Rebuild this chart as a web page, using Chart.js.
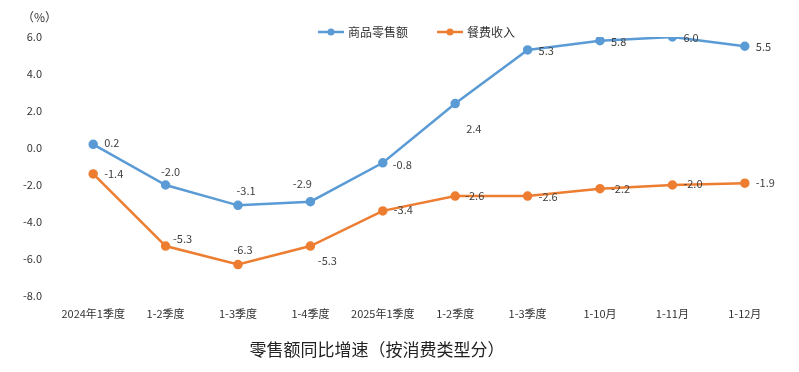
<!DOCTYPE html>
<html>
<head>
<meta charset="utf-8">
<script src="https://cdn.jsdelivr.net/npm/chart.js@4.4.0/dist/chart.umd.min.js"></script>
<style>
  html, body { margin: 0; padding: 0; background: #fff; }
  #wrap { width: 799px; height: 372px; }
</style>
</head>
<body>
<div id="wrap"><canvas id="chart" width="799" height="372"></canvas></div>
<script>
const categories = ['2024年1季度', '1-2季度', '1-3季度', '1-4季度', '2025年1季度', '1-2季度', '1-3季度', '1-10月', '1-11月', '1-12月'];
const retailGoods = [0.2, -2.0, -3.1, -2.9, -0.8, 2.4, 5.3, 5.8, 6.0, 5.5];
const catering = [-1.4, -5.3, -6.3, -5.3, -3.4, -2.6, -2.6, -2.2, -2.0, -1.9];
const yTicks = [-8, -6, -4, -2, 0, 2, 4, 6];

const FONT = '"Noto Sans CJK SC", "Noto Sans", sans-serif';
const blue = '#5B9BD5';
const orange = '#ED7D31';

// where each value label sits relative to its point: [align, dx, dy]
const blueLabelPos = [['left', 11, -1], ['center', 5, -13], ['center', 8, -15], ['center', -8, -18], ['left', 10, 2],
  ['left', 11, 25], ['left', 11, 1], ['left', 11, 1], ['left', 11, 1], ['left', 11, 1]];
const orangeLabelPos = [['left', 11, 0], ['center', 17, -7], ['center', 5, -15], ['center', 17, 15], ['left', 11, -1],
  ['left', 10, 0], ['left', 11, 1], ['left', 11, 0], ['left', 11, -1], ['left', 11, 0]];

const extras = {
  id: 'extras',
  afterDatasetsDraw(chart) {
    const ctx = chart.ctx;
    ctx.save();
    // value labels
    ctx.font = '11px ' + FONT;
    ctx.fillStyle = '#404040';
    ctx.textBaseline = 'middle';
    [blueLabelPos, orangeLabelPos].forEach((pos, di) => {
      const meta = chart.getDatasetMeta(di);
      const vals = chart.data.datasets[di].data;
      meta.data.forEach((pt, i) => {
        const p = pos[i];
        ctx.textAlign = p[0];
        ctx.fillText(vals[i].toFixed(1), pt.x + p[1], pt.y + p[2]);
      });
    });
    // unit
    ctx.textAlign = 'left';
    ctx.font = '12px ' + FONT;
    ctx.fillStyle = '#333';
    ctx.fillText('（%）', 22, 17);
    // legend
    const items = [[318, chart.data.datasets[0]], [437, chart.data.datasets[1]]];
    items.forEach(([x, ds]) => {
      const y = 32;
      ctx.strokeStyle = ds.borderColor;
      ctx.lineWidth = 2.5;
      ctx.beginPath();
      ctx.moveTo(x, y);
      ctx.lineTo(x + 26, y);
      ctx.stroke();
      ctx.fillStyle = ds.borderColor;
      ctx.beginPath();
      ctx.arc(x + 13, y, 3.5, 0, Math.PI * 2);
      ctx.fill();
      ctx.fillStyle = '#333';
      ctx.font = '12px ' + FONT;
      ctx.fillText(ds.label, x + 30, y);
    });
    // title
    ctx.textAlign = 'center';
    ctx.font = '17px ' + FONT;
    ctx.fillStyle = '#222';
    ctx.fillText('零售额同比增速（按消费类型分）', 377, 350);
    ctx.restore();
  }
};

new Chart(document.getElementById('chart'), {
  type: 'line',
  data: {
    labels: categories,
    datasets: [{
      label: '商品零售额',
      data: retailGoods,
      borderColor: blue,
      backgroundColor: blue,
      borderWidth: 2.5,
      pointRadius: 3.5,
      pointHoverRadius: 3.5,
      tension: 0
    }, {
      label: '餐费收入',
      data: catering,
      borderColor: orange,
      backgroundColor: orange,
      borderWidth: 2.5,
      pointRadius: 3.5,
      pointHoverRadius: 3.5,
      tension: 0
    }]
  },
  options: {
    responsive: false,
    animation: false,
    layout: { padding: { top: 37, right: 18, bottom: 0, left: 0 } },
    plugins: {
      legend: { display: false },
      title: { display: false },
      tooltip: { enabled: false }
    },
    scales: {
      x: {
        offset: true,
        grid: { display: false },
        border: { display: false },
        ticks: { color: '#333', font: { family: FONT, size: 11 }, padding: 3, maxRotation: 0, autoSkip: false },
        afterFit(scale) { scale.height = 76; }
      },
      y: {
        min: -8,
        max: 6,
        afterBuildTicks(scale) { scale.ticks = yTicks.map(v => ({ value: v })); },
        grid: { display: false },
        border: { display: false },
        ticks: {
          color: '#333',
          font: { family: FONT, size: 11 },
          padding: 7,
          callback: v => Number(v).toFixed(1)
        },
        afterFit(scale) { scale.width = 57; }
      }
    }
  },
  plugins: [extras]
});
</script>
</body>
</html>
